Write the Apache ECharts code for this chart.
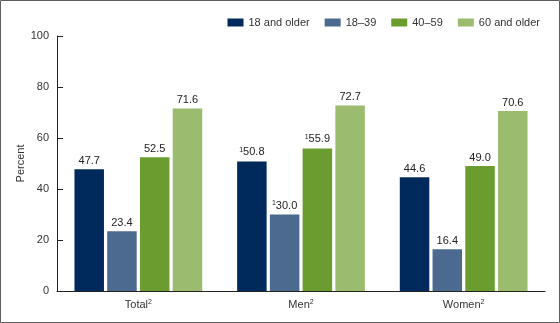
<!DOCTYPE html>
<html>
<head>
<meta charset="utf-8">
<script src="https://cdn.jsdelivr.net/npm/echarts@6/dist/echarts.min.js"></script>
<style>
html,body{margin:0;padding:0;background:#fff;}
#c{width:560px;height:323px;}
</style>
</head>
<body>
<div id="c"></div>
<script>
var categories = ['Total', 'Men', 'Women'];
var categoryNotes = ['2', '2', '2'];
var seriesNames = ['18 and older', '18\u201339', '40\u201359', '60 and older'];
var values18plus = [47.7, 50.8, 44.6];
var values18to39 = [23.4, 30.0, 16.4];
var values40to59 = [52.5, 55.9, 49.0];
var values60plus = [71.6, 72.7, 70.6];
var notes18plus = ['', '1', ''];
var notes18to39 = ['', '1', ''];
var notes40to59 = ['', '1', ''];
var notes60plus = ['', '', ''];
var yTicks = [0, 20, 40, 60, 80, 100];

var colors = ['#002a5c', '#4c6a8f', '#6b9c30', '#9bbb6f'];
var allValues = [values18plus, values18to39, values40to59, values60plus];
var allNotes = [notes18plus, notes18to39, notes40to59, notes60plus];

var chart = echarts.init(document.getElementById('c'), null, {renderer: 'canvas'});

var series = seriesNames.map(function (name, si) {
  return {
    name: name,
    type: 'bar',
    barWidth: 29.5,
    barGap: '11%',
    itemStyle: {color: colors[si]},
    data: allValues[si].map(function (v, i) {
      return {value: v, note: allNotes[si][i]};
    }),
    label: {
      show: true,
      position: 'top',
      distance: 3,
      fontFamily: 'Liberation Sans, Arial, sans-serif',
      fontSize: 11,
      color: '#222',
      formatter: function (p) {
        var txt = p.value.toFixed(1);
        var n = allNotes[si][p.dataIndex];
        return n ? '{sup|' + n + '}' + txt : txt;
      },
      rich: {
        sup: {fontSize: 7, color: '#222', padding: [0, 0, 5, 0], fontFamily: 'Liberation Sans, Arial, sans-serif'}
      }
    }
  };
});

chart.setOption({
  animation: false,
  color: colors,
  textStyle: {fontFamily: 'Liberation Sans, Arial, sans-serif'},
  graphic: [{
    type: 'rect',
    shape: {x: 0.5, y: 0.5, width: 559, height: 322},
    style: {fill: 'none', stroke: '#5e5e5e', lineWidth: 1},
    silent: true
  }],
  legend: {
    top: 12,
    right: 15,
    itemWidth: 16,
    itemHeight: 8,
    itemGap: 15,
    icon: 'rect',
    textStyle: {fontSize: 11, color: '#333', padding: [0, 0, 0, 0]},
    data: seriesNames
  },
  grid: {left: 57, right: 15, top: 36, bottom: 32, containLabel: false},
  xAxis: {
    type: 'category',
    data: categories,
    axisLine: {lineStyle: {color: '#222', width: 1}},
    axisTick: {show: false},
    axisLabel: {
      fontSize: 11,
      color: '#333',
      margin: 8,
      formatter: function (v, i) {
        return v + '{sup|' + categoryNotes[i] + '}';
      },
      rich: {
        sup: {fontSize: 7, color: '#333', padding: [0, 0, 5, 0]}
      }
    }
  },
  yAxis: {
    type: 'value',
    min: yTicks[0],
    max: yTicks[yTicks.length - 1],
    interval: 20,
    name: 'Percent',
    nameLocation: 'middle',
    nameGap: 31,
    nameRotate: 90,
    nameMoveOverlap: false,
    nameTextStyle: {fontSize: 11, color: '#333'},
    axisLine: {show: true, lineStyle: {color: '#222', width: 1}},
    axisTick: {show: true, inside: true, length: 6, lineStyle: {color: '#222'}},
    splitLine: {show: false},
    axisLabel: {fontSize: 11, color: '#333', margin: 8}
  },
  series: series
});
</script>
</body>
</html>
